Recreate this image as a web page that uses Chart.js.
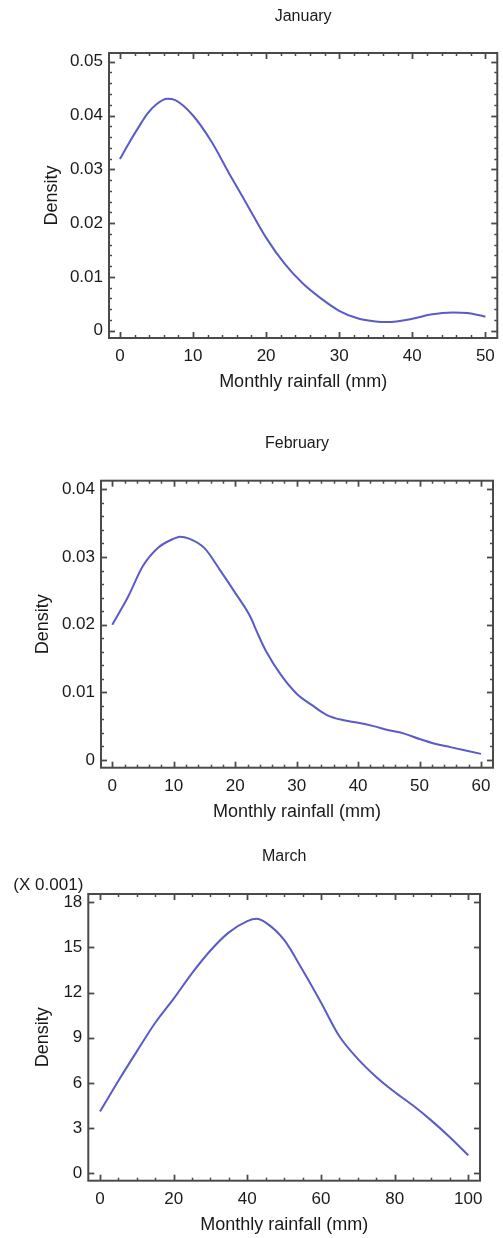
<!DOCTYPE html>
<html><head><meta charset="utf-8">
<script src="https://cdn.jsdelivr.net/npm/chart.js@4.4.0/dist/chart.umd.min.js"></script>
<style>
html,body{margin:0;padding:0;background:#fff;width:503px;height:1238px;overflow:hidden}
canvas{position:absolute;left:0}
</style></head><body>
<canvas id="jan" style="top:0px"></canvas>
<canvas id="feb" style="top:410px"></canvas>
<canvas id="mar" style="top:830px"></canvas>
<script>
// ---------- data ----------
const janRainfall = [0, 1.25, 2.5, 3.75, 5, 6.5, 7.5, 10, 12.5, 15, 17.5, 20, 22.5, 25, 27.5, 30, 32.5, 35, 36.5, 40, 42.5, 45.5, 47.5, 50];
const janDensity  = [0.0319, 0.0349, 0.0377, 0.0403, 0.0421, 0.0431, 0.0429, 0.0400, 0.0352, 0.0291, 0.0232, 0.0173, 0.0125, 0.0088, 0.0060, 0.0037, 0.0023, 0.0017, 0.0016, 0.0022, 0.0030, 0.0034, 0.0033, 0.0026];
const janXTicks = [0, 10, 20, 30, 40, 50];
const janXLabels = ['0', '10', '20', '30', '40', '50'];
const janYTicks = [0, 0.01, 0.02, 0.03, 0.04, 0.05];
const janYLabels = ['0', '0.01', '0.02', '0.03', '0.04', '0.05'];

const febRainfall = [0, 2.5, 5, 7.5, 10, 11, 12.5, 15, 17.5, 20, 22.5, 23.5, 25, 27.5, 30, 32.5, 35, 37.5, 40, 42.5, 45, 47.5, 50, 52.5, 55, 57.5, 60];
const febDensity  = [0.0200, 0.0240, 0.0287, 0.0314, 0.0327, 0.0330, 0.0327, 0.0313, 0.0281, 0.0247, 0.0211, 0.0190, 0.0161, 0.0125, 0.0098, 0.0081, 0.0066, 0.0059, 0.0055, 0.0050, 0.0044, 0.0039, 0.0031, 0.0024, 0.0019, 0.0014, 0.0009];
const febXTicks = [0, 10, 20, 30, 40, 50, 60];
const febXLabels = ['0', '10', '20', '30', '40', '50', '60'];
const febYTicks = [0, 0.01, 0.02, 0.03, 0.04];
const febYLabels = ['0', '0.01', '0.02', '0.03', '0.04'];

const marRainfall = [0, 5, 10, 15, 20, 25, 30, 35, 40, 42.5, 45, 50, 55, 60, 65, 70, 75, 80, 85, 90, 95, 100];
const marDensityX1000 = [4.1, 6.15, 8.1, 10.0, 11.6, 13.3, 14.8, 16.0, 16.75, 16.9, 16.65, 15.5, 13.5, 11.35, 9.1, 7.6, 6.4, 5.4, 4.5, 3.5, 2.4, 1.2];
const marXTicks = [0, 20, 40, 60, 80, 100];
const marXLabels = ['0', '20', '40', '60', '80', '100'];
const marYTicks = [0, 3, 6, 9, 12, 15, 18];
const marYLabels = ['0', '3', '6', '9', '12', '15', '18'];

const titles = ['January', 'February', 'March'];
const xAxisTitle = 'Monthly rainfall (mm)';
const yAxisTitle = 'Density';
const marScaleNote = '(X 0.001)';

// ---------- style ----------
const FONT = "'Liberation Sans', Arial, Helvetica, sans-serif";
const TEXT = '#1a1a1a';
const FRAME = '#4a4a4a';
const LINE = '#5a5ac8';

const framePlugin = {
  id: 'frame',
  afterDraw(chart, args, opts) {
    const {ctx, chartArea: a, scales: {x, y}} = chart;
    ctx.save();
    ctx.strokeStyle = FRAME;
    const seg = (x1, y1, x2, y2) => { ctx.beginPath(); ctx.moveTo(x1, y1); ctx.lineTo(x2, y2); ctx.stroke(); };
    const minors = (ticks, n) => {
      const out = [];
      for (let i = 0; i < ticks.length - 1; i++) {
        const t0 = ticks[i].value, t1 = ticks[i + 1].value;
        for (let k = 1; k < n; k++) out.push(t0 + (t1 - t0) * k / n);
      }
      return out;
    };
    const xTick = (v, len) => { const p = Math.round(x.getPixelForValue(v)) + 0.5; seg(p, a.bottom, p, a.bottom - len); seg(p, a.top, p, a.top + len); };
    const yTick = (v, len) => { const p = Math.round(y.getPixelForValue(v)) + 0.5; seg(a.left, p, a.left + len, p); seg(a.right, p, a.right - len, p); };
    ctx.lineWidth = 1.5;
    minors(x.ticks, opts.xSub).forEach(v => xTick(v, 3));
    minors(y.ticks, opts.ySub).forEach(v => yTick(v, 3));
    ctx.lineWidth = 1.8;
    x.ticks.forEach(t => xTick(t.value, 6));
    y.ticks.forEach(t => yTick(t.value, 6));
    ctx.lineWidth = 2;
    ctx.strokeRect(a.left, a.top, a.right - a.left, a.bottom - a.top);
    if (opts.note) {
      ctx.fillStyle = TEXT;
      ctx.font = '17px ' + FONT;
      ctx.textAlign = 'right';
      ctx.textBaseline = 'middle';
      ctx.fillText(opts.note, a.left - 5, a.top - 9);
    }
    ctx.restore();
  }
};

function makeChart(id, o) {
  const cv = document.getElementById(id);
  cv.width = 503; cv.height = o.height;
  cv.style.width = '503px'; cv.style.height = o.height + 'px';
  const tickFont = {family: FONT, size: 17, weight: 'normal'};
  const titleFont = {family: FONT, size: 18, weight: 'normal'};
  return new Chart(cv, {
    type: 'line',
    data: {
      datasets: [{
        data: o.xs.map((v, i) => ({x: v, y: o.ys[i]})),
        borderColor: LINE, borderWidth: 2, pointRadius: 0,
        tension: 0.4, cubicInterpolationMode: 'monotone', fill: false
      }]
    },
    options: {
      responsive: false, animation: false, devicePixelRatio: 1,
      layout: {padding: {left: 0, right: o.padRight, top: 0, bottom: 0}},
      plugins: {
        legend: {display: false},
        tooltip: {enabled: false},
        title: {
          display: true, text: o.title, fullSize: false, color: TEXT,
          font: {family: FONT, size: 16, weight: 'normal'},
          padding: {top: o.titleTop, bottom: o.titleBottom}
        },
        frame: {xSub: o.xSub, ySub: o.ySub, note: o.note}
      },
      scales: {
        x: {
          type: 'linear', min: o.xMin, max: o.xMax,
          grid: {display: false, drawTicks: false}, border: {display: false},
          afterBuildTicks: s => { s.ticks = o.xTicks.map(v => ({value: v})); },
          afterFit: s => { s.height = o.height - o.boxBottom; },
          ticks: {padding: 8, color: TEXT, font: tickFont, maxRotation: 0, autoSkip: false,
                  callback: (v, i) => o.xLabels[i]},
          title: {display: true, text: xAxisTitle, color: TEXT, font: titleFont,
                  padding: {top: 0, bottom: o.xTitleBottom}}
        },
        y: {
          type: 'linear', min: o.yMin, max: o.yMax,
          grid: {display: false, drawTicks: false}, border: {display: false},
          afterBuildTicks: s => { s.ticks = o.yTicks.map(v => ({value: v})); },
          afterFit: s => { s.width = o.boxLeft; },
          ticks: {padding: 6, color: TEXT, font: tickFont, autoSkip: false,
                  callback: (v, i) => o.yLabels[i]},
          title: {display: true, text: yAxisTitle, color: TEXT, font: titleFont,
                  padding: {top: o.yTitleLeft, bottom: 0}}
        }
      }
    },
    plugins: [framePlugin]
  });
}

makeChart('jan', {
  height: 400, title: titles[0], xs: janRainfall, ys: janDensity,
  xTicks: janXTicks, xLabels: janXLabels, yTicks: janYTicks, yLabels: janYLabels,
  xMin: -1.49, xMax: 51.63, yMin: -0.00136, yMax: 0.05162,
  xSub: 5, ySub: 5,
  boxLeft: 109, boxBottom: 338, padRight: 3,
  titleTop: 7.4, titleBottom: 26.4, xTitleBottom: 7.2, yTitleLeft: 41.2
});
makeChart('feb', {
  height: 420, title: titles[1], xs: febRainfall, ys: febDensity,
  xTicks: febXTicks, xLabels: febXLabels, yTicks: febYTicks, yLabels: febYLabels,
  xMin: -1.84, xMax: 61.95, yMin: -0.00114, yMax: 0.04127,
  xSub: 5, ySub: 5,
  boxLeft: 101, boxBottom: 357.7, padRight: 10,
  titleTop: 24.4, titleBottom: 27.1, xTitleBottom: 7.2, yTitleLeft: 32.2
});
makeChart('mar', {
  height: 408, title: titles[2], xs: marRainfall, ys: marDensityX1000,
  xTicks: marXTicks, xLabels: marXLabels, yTicks: marYTicks, yLabels: marYLabels,
  xMin: -3.18, xMax: 103.18, yMin: -0.49, yMax: 18.55,
  xSub: 4, ySub: 1, note: marScaleNote,
  boxLeft: 88.3, boxBottom: 350.7, padRight: 23,
  titleTop: 17.4, titleBottom: 27.4, xTitleBottom: 2.2, yTitleLeft: 32.2
});
</script>
</body></html>
